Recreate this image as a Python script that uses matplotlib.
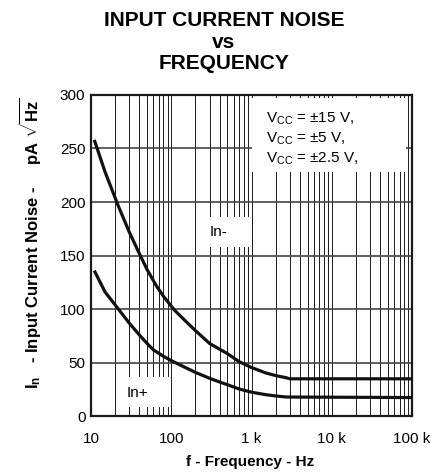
import numpy as np
import matplotlib
matplotlib.use('Agg')
import matplotlib.pyplot as plt
from matplotlib.patches import Rectangle
from matplotlib.ticker import FixedLocator, FixedFormatter, LogLocator, NullFormatter

plt.rcParams['font.family'] = ['Liberation Sans', 'DejaVu Sans']
plt.rcParams['mathtext.fontset'] = 'custom'
plt.rcParams['mathtext.rm'] = 'Liberation Sans'
plt.rcParams['mathtext.it'] = 'Liberation Sans'
plt.rcParams['mathtext.bf'] = 'Liberation Sans:bold'

# In- (upper curve)
f_in_minus = [11, 15, 22, 30, 40, 50, 65, 80, 110, 150, 200, 300, 500, 700,
              1000, 1500, 2000, 2700, 3000, 100000]
n_in_minus = [258, 228, 196, 172, 152, 137, 122, 112, 99, 89, 80, 68, 58.5, 51,
              45.5, 40.5, 38, 36, 35, 35]

# In+ (lower curve)
f_in_plus = [11, 15, 22, 30, 40, 50, 60, 80, 100, 150, 200, 300, 400, 500,
             700, 1000, 1500, 2000, 2700, 100000]
n_in_plus = [136, 116, 100, 87, 76, 68, 62, 56, 52, 45.5, 41, 35.5, 32, 29.5,
             25.5, 22.5, 20.2, 19, 18, 17.5]

x_ticks = [10, 100, 1000, 10000, 100000]
x_labels = ['10', '100', '1 k', '10 k', '100 k']
y_ticks = [0, 50, 100, 150, 200, 250, 300]

fig = plt.figure(figsize=(4.48, 4.72), dpi=100)
ax = fig.add_axes([0.203, 0.118, 0.717, 0.681])

ax.set_xscale('log')
ax.set_xlim(10, 100000)
ax.set_ylim(0, 300)

ax.xaxis.set_major_locator(FixedLocator(x_ticks))
ax.xaxis.set_major_formatter(FixedFormatter(x_labels))
ax.xaxis.set_minor_locator(LogLocator(base=10, subs=np.arange(2, 10)))
ax.xaxis.set_minor_formatter(NullFormatter())
ax.set_yticks(y_ticks)

ax.grid(True, which='both', axis='x', color='#1a1a1a', lw=0.7, zorder=1)
ax.grid(True, which='major', axis='y', color='#444444', lw=1.2, zorder=1)
ax.set_axisbelow(True)

ax.tick_params(axis='both', which='both', length=0, labelsize=11)
ax.tick_params(axis='x', pad=11)
ax.tick_params(axis='y', pad=4)

for s in ax.spines.values():
    s.set_linewidth(1.6)
    s.set_color('#1a1a1a')

# white boxes that break the grid behind the labels
for x0, y0, w, h in [(0.349, 0.527, 0.153, 0.093),
                     (0.100, 0.030, 0.146, 0.093),
                     (0.502, 0.760, 0.479, 0.231)]:
    ax.add_patch(Rectangle((x0, y0), w, h, transform=ax.transAxes,
                           facecolor='white', edgecolor='none', zorder=2))

ax.plot(f_in_minus, n_in_minus, color='#111111', lw=2.3, zorder=4,
        solid_capstyle='butt', solid_joinstyle='round')
ax.plot(f_in_plus, n_in_plus, color='#111111', lw=2.3, zorder=4,
        solid_capstyle='butt', solid_joinstyle='round')

ax.text(0.371, 0.574, 'In-', transform=ax.transAxes, fontsize=11,
        va='center', ha='left', zorder=3)
ax.text(0.112, 0.073, 'In+', transform=ax.transAxes, fontsize=11,
        va='center', ha='left', zorder=3)
vcc = [r'V$_{\rm CC}$ = $\pm$15 V,', r'V$_{\rm CC}$ = $\pm$5 V,',
       r'V$_{\rm CC}$ = $\pm$2.5 V,']
for i, t in enumerate(vcc):
    ax.text(0.545, 0.925 - 0.062 * i, t, transform=ax.transAxes, fontsize=11,
            va='center', ha='left', zorder=3)

ax.set_xlabel('f - Frequency - Hz', fontsize=11, fontweight='bold')
ax.xaxis.set_label_coords(0.495, -0.12)
ax.set_ylabel(r'$\mathbf{I_n}$   - Input Current Noise -     pA $\sqrt{\mathbf{Hz}}$',
              fontsize=12, fontweight='bold')
ax.yaxis.set_label_coords(-0.15, 0.54)

fig.text(0.5, 0.957, 'INPUT CURRENT NOISE', ha='center', va='center',
         fontsize=15, fontweight='bold')
fig.text(0.5, 0.911, 'vs', ha='center', va='center', fontsize=15, fontweight='bold')
fig.text(0.5, 0.866, 'FREQUENCY', ha='center', va='center', fontsize=15,
         fontweight='bold')

fig.savefig('out.png', dpi=100)
